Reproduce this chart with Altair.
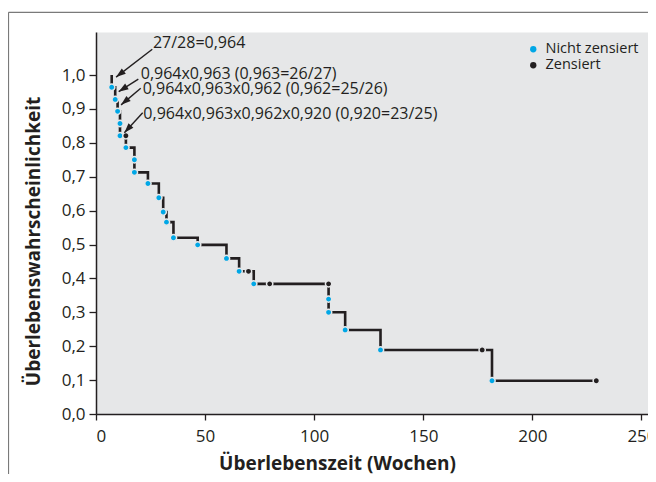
import math
import altair as alt
import pandas as pd

# ---------------- data ----------------
weeks = [7.2, 7.2, 8.8, 9.9, 11.0, 11.0, 13.7, 13.7, 17.6, 17.6, 23.8, 28.8, 30.8,
         32.3, 35.5, 46.6, 59.8, 65.6, 69.9, 72.3, 79.6, 106.6, 106.6, 106.6,
         114.2, 130.4, 177.0, 181.5, 229.3]
survival = [1.0, 0.964, 0.928, 0.893, 0.857, 0.821, 0.821, 0.786, 0.750, 0.713,
            0.680, 0.638, 0.596, 0.566, 0.520, 0.499, 0.459, 0.421, 0.421, 0.384,
            0.384, 0.384, 0.339, 0.300, 0.248, 0.189, 0.189, 0.098, 0.098]
N, Z = "Nicht zensiert", "Zensiert"
status = ["Start", N, N, N, N, N, Z, N, N, N, N, N, N, N, N, N, N, N, Z, N, Z, Z,
          N, N, N, N, Z, N, Z]

ann_text = ["27/28=0,964",
            "0,964x0,963 (0,963=26/27)",
            "0,964x0,963x0,962 (0,962=25/26)",
            "0,964x0,963x0,962x0,920 (0,920=23/25)"]
ann_t = [26.1, 20.5, 21.4, 21.7]
ann_s = [1.094, 1.003, 0.958, 0.884]

arrow_t0 = [25.8, 19.4, 20.5, 21.4]
arrow_s0 = [1.076, 0.988, 0.961, 0.889]
arrow_t1 = [9.2, 10.4, 11.5, 13.0]
arrow_s1 = [0.994, 0.951, 0.912, 0.830]

x_ticks = [0, 50, 100, 150, 200, 250]
y_ticks = [0.0, 0.1, 0.2, 0.3, 0.4, 0.5, 0.6, 0.7, 0.8, 0.9, 1.0]
y_tick_labels = ["0,0", "0,1", "0,2", "0,3", "0,4", "0,5", "0,6", "0,7", "0,8",
                 "0,9", "1,0"]

# ---------------- layout / style ----------------
W, H = 552, 382
X_DOM = [0, 253]
Y_DOM = [0, 1.127]
FONT = "Open Sans"
INK = "#231f20"
BG = "#e6e7e8"
BLUE = "#00a7e6"

curve = pd.DataFrame({"t": weeks, "s": survival, "status": status,
                      "idx": list(range(len(weeks)))})
ann = pd.DataFrame({"label": ann_text, "t": ann_t, "s": ann_s})

px_t = W / (X_DOM[1] - X_DOM[0])
px_s = H / (Y_DOM[1] - Y_DOM[0])
angles = []
for a, b, c, d in zip(arrow_t0, arrow_s0, arrow_t1, arrow_s1):
    dx = (c - a) * px_t
    dy = -(d - b) * px_s
    angles.append(math.degrees(math.atan2(dx, -dy)) % 360)
arrows = pd.DataFrame({"t0": arrow_t0, "s0": arrow_s0, "t1": arrow_t1,
                       "s1": arrow_s1, "ang": angles})

xs = alt.Scale(domain=X_DOM, nice=False, zero=False)
ys = alt.Scale(domain=Y_DOM, nice=False, zero=False)

label_map = "{" + ", ".join(
    f"'{v:.1f}': '{lab}'" for v, lab in zip(y_ticks, y_tick_labels)) + "}"


def x_axis():
    return alt.Axis(values=x_ticks, format="d", title="Überlebenszeit (Wochen)",
                    titleX=241, titleY=49, titleBaseline="middle",
                    titleAlign="center", tickSize=6, labelPadding=8,
                    labelOverlap=False)


def y_axis():
    return alt.Axis(values=y_ticks, title="Überlebenswahrscheinlichkeit",
                    labelExpr=f"{label_map}[format(datum.value, '.1f')]",
                    titleX=-63, titleY=209, titleAngle=270, titleAlign="center",
                    titleBaseline="middle", tickSize=7, labelPadding=4,
                    labelOverlap=False, labelSeparation=0)


base = alt.Chart(curve)

line = base.mark_line(interpolate="step-after", color=INK, strokeWidth=2.6).encode(
    x=alt.X("t:Q", scale=xs, axis=x_axis()),
    y=alt.Y("s:Q", scale=ys, axis=y_axis()),
    order="idx:Q",
)

points = base.transform_filter("datum.status != 'Start'").mark_point(
    filled=True, size=40, stroke=BG, strokeWidth=1.5, opacity=1, shape="circle"
).encode(
    x=alt.X("t:Q", scale=xs, axis=x_axis()),
    y=alt.Y("s:Q", scale=ys, axis=y_axis()),
    color=alt.Color("status:N",
                    scale=alt.Scale(domain=[N, Z], range=[BLUE, INK]),
                    legend=alt.Legend(title=None, orient="none", legendX=430,
                                      legendY=10, labelFontSize=14.5, labelFont=FONT,
                                      labelColor=INK, symbolSize=40,
                                      symbolStrokeWidth=0, symbolType="circle",
                                      rowPadding=1, labelOffset=5, padding=0)),
)

arrow_lines = alt.Chart(arrows).mark_rule(color=INK, strokeWidth=1.4).encode(
    x=alt.X("t0:Q", scale=xs, axis=x_axis()),
    y=alt.Y("s0:Q", scale=ys, axis=y_axis()),
    x2="t1:Q", y2="s1:Q"
)
arrow_heads = alt.Chart(arrows).mark_point(
    shape="M0,0L-0.34,1L0.34,1Z", filled=True, size=380, color=INK, opacity=1
).encode(
    x=alt.X("t1:Q", scale=xs, axis=x_axis()),
    y=alt.Y("s1:Q", scale=ys, axis=y_axis()),
    angle=alt.Angle("ang:Q", scale=None)
)

texts = alt.Chart(ann).mark_text(align="left", baseline="middle", font=FONT,
                                 fontSize=16, color=INK).encode(
    x=alt.X("t:Q", scale=xs, axis=x_axis()),
    y=alt.Y("s:Q", scale=ys, axis=y_axis()),
    text="label:N"
)

frame_data = alt.Data(values=[{"k": 1}])
frame_top = alt.Chart(frame_data).mark_rule(color="#7a7a7a", strokeWidth=1.2).encode(
    x=alt.value(-87.5), x2=alt.value(W + 10), y=alt.value(-19.7), y2=alt.value(-19.7)
)
frame_left = alt.Chart(frame_data).mark_rule(color="#7a7a7a", strokeWidth=1.2).encode(
    x=alt.value(-87.5), x2=alt.value(-87.5), y=alt.value(-19.7), y2=alt.value(H + 80)
)

chart = alt.layer(line, points, arrow_lines, arrow_heads, texts, frame_top,
                  frame_left).properties(
    width=W, height=H, autosize="none",
    padding={"left": 88, "top": 24, "right": 0, "bottom": 60},
    background="white",
).configure_view(
    fill=BG, stroke="transparent"
).configure_axis(
    grid=False, domainColor=INK, domainWidth=1.5, tickColor=INK, tickWidth=1.3,
    labelFont=FONT, labelFontSize=17, labelColor=INK, labelOverlap=False,
    titleFont=FONT, titleFontSize=19, titleFontWeight="bold", titleColor=INK,
)

chart.save("out.html", embed_options={"renderer": "svg", "actions": False})
